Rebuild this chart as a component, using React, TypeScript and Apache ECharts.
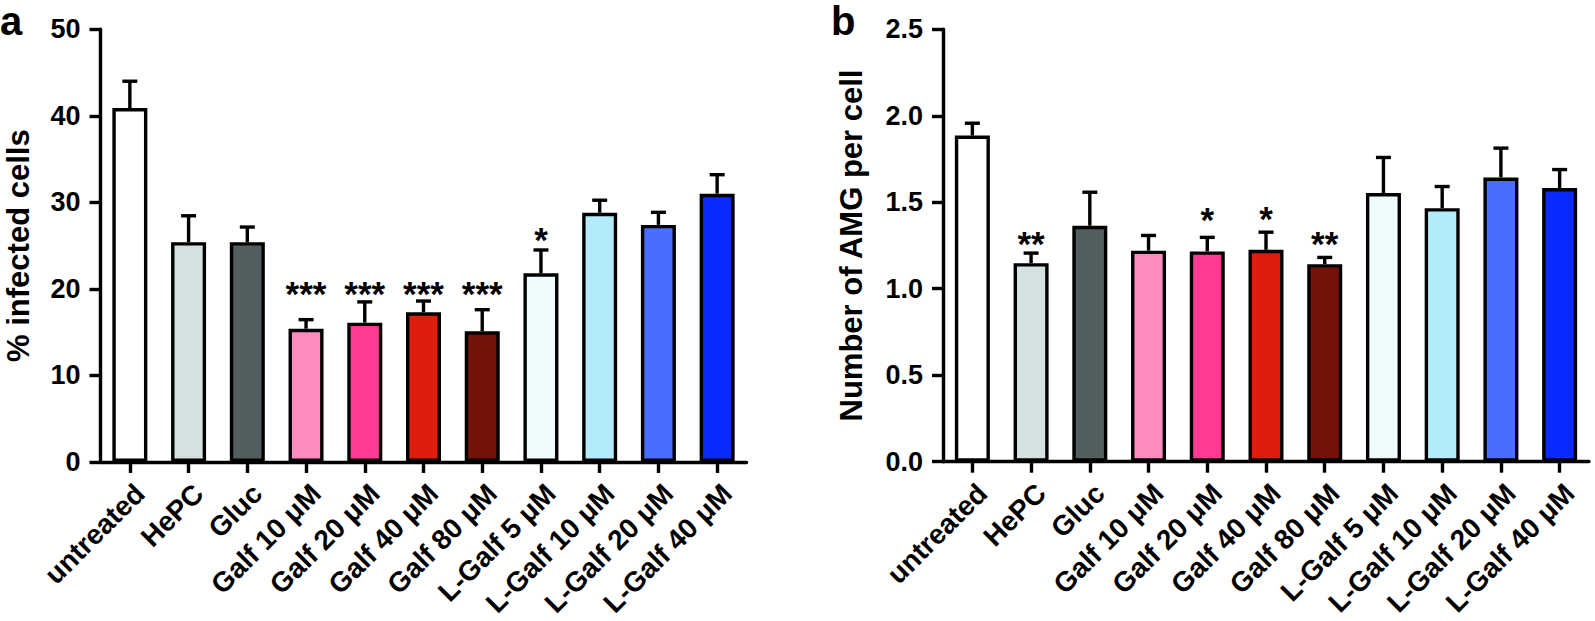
import React, { useEffect, useRef } from "react";
import * as echarts from "echarts";

const categories = [
  "untreated",
  "HePC",
  "Gluc",
  "Galf 10 μM",
  "Galf 20 μM",
  "Galf 40 μM",
  "Galf 80 μM",
  "L-Galf 5 μM",
  "L-Galf 10 μM",
  "L-Galf 20 μM",
  "L-Galf 40 μM",
];

const barColors = [
  "#FFFFFF",
  "#D3E1E0",
  "#525E5F",
  "#FF8BC0",
  "#FF3C92",
  "#DD1E0C",
  "#731209",
  "#EDFBFD",
  "#B3EBFB",
  "#4A6DFF",
  "#0A2AFF",
];

// panel a: % infected cells
const infectedMean = [40.9, 25.4, 25.4, 15.4, 16.1, 17.3, 15.1, 21.8, 28.8, 27.4, 31.0];
const infectedErr = [3.1, 3.05, 1.75, 1.05, 2.4, 1.3, 2.5, 2.7, 1.45, 1.45, 2.2];
const infectedSig = ["", "", "", "***", "***", "***", "***", "*", "", "", ""];
const infectedSigY = [0, 0, 0, 20.4, 20.4, 20.4, 20.4, 26.6, 0, 0, 0];
const infectedTicks = [0, 10, 20, 30, 40, 50];

// panel b: Number of AMG per cell
const amgMean = [1.886, 1.148, 1.364, 1.22, 1.216, 1.225, 1.142, 1.553, 1.466, 1.643, 1.582];
const amgErr = [0.071, 0.058, 0.194, 0.088, 0.081, 0.102, 0.039, 0.206, 0.125, 0.17, 0.107];
const amgSig = ["", "**", "", "", "*", "*", "**", "", "", "", ""];
const amgSigY = [0, 1.305, 0, 0, 1.445, 1.451, 1.305, 0, 0, 0, 0];
const amgTicks = [0, 0.5, 1.0, 1.5, 2.0, 2.5];

const FONT = '"Liberation Sans", Arial, Helvetica, sans-serif';
const LW = 3.4;

function xAxisFor(gridIndex: number) {
  return {
    type: "category",
    gridIndex,
    data: categories,
    axisLine: { show: true, lineStyle: { color: "#000", width: LW } },
    axisTick: { show: true, alignWithLabel: true, length: 11, lineStyle: { color: "#000", width: LW } },
    axisLabel: {
      interval: 0,
      rotate: 45,
      margin: 17,
      align: "right",
      verticalAlign: "top",
      color: "#000",
      fontSize: 28,
      fontWeight: "bold",
      fontFamily: FONT,
    },
    splitLine: { show: false },
  };
}

function yAxisFor(gridIndex: number, ticks: number[], name: string, nameGap: number, digits: number) {
  return {
    type: "value",
    gridIndex,
    min: ticks[0],
    max: ticks[ticks.length - 1],
    interval: ticks[1] - ticks[0],
    name,
    nameLocation: "middle",
    nameGap,
    nameTextStyle: { color: "#000", fontSize: 31, fontWeight: "bold", fontFamily: FONT },
    axisLine: { show: true, lineStyle: { color: "#000", width: LW } },
    axisTick: { show: true, length: 11, lineStyle: { color: "#000", width: LW } },
    axisLabel: {
      margin: 20,
      color: "#000",
      fontSize: 27,
      fontWeight: "bold",
      fontFamily: FONT,
      formatter: (v: number) => v.toFixed(digits),
    },
    splitLine: { show: false },
  };
}

function barSeries(idx: number, means: number[]) {
  return {
    type: "bar",
    xAxisIndex: idx,
    yAxisIndex: idx,
    barWidth: 35,
    data: means.map((v, i) => ({ value: v, itemStyle: { color: barColors[i] } })),
    itemStyle: { borderColor: "#000", borderWidth: LW },
    z: 2,
  };
}

function errSeries(idx: number, means: number[], errs: number[]) {
  return {
    type: "custom",
    xAxisIndex: idx,
    yAxisIndex: idx,
    z: 3,
    data: means.map((v, i) => [i, v, v + errs[i]]),
    renderItem: (params: any, api: any) => {
      const base = api.coord([api.value(0), api.value(1)]);
      const top = api.coord([api.value(0), api.value(2)]);
      const half = 7.5;
      return {
        type: "group",
        children: [
          {
            type: "line",
            shape: { x1: base[0], y1: base[1], x2: base[0], y2: top[1] },
            style: { stroke: "#000", lineWidth: LW },
          },
          {
            type: "line",
            shape: { x1: base[0] - half, y1: top[1], x2: base[0] + half, y2: top[1] },
            style: { stroke: "#000", lineWidth: LW },
          },
        ],
      };
    },
  };
}

function sigSeries(idx: number, sig: string[], sigY: number[]) {
  return {
    type: "custom",
    xAxisIndex: idx,
    yAxisIndex: idx,
    z: 4,
    data: sig.map((s, i) => [i, sigY[i], s]).filter((d) => d[2] !== ""),
    renderItem: (params: any, api: any) => {
      const p = api.coord([api.value(0), api.value(1)]);
      return {
        type: "text",
        style: {
          text: String(api.value(2)),
          x: p[0],
          y: p[1] + 8,
          fill: "#000",
          fontSize: 35,
          fontWeight: "bold",
          fontFamily: FONT,
          align: "center",
          verticalAlign: "middle",
        },
      };
    },
  };
}

export default function App() {
  const ref = useRef<HTMLDivElement>(null);
  useEffect(() => {
    if (!ref.current) return;
    const chart = echarts.init(ref.current, undefined, { renderer: "svg" });
    chart.setOption({
      animation: false,
      backgroundColor: "#fff",
      grid: [
        { left: 100.5, top: 29.3, width: 646, height: 432.7, outerBoundsMode: "none", containLabel: false },
        { left: 943, top: 29.3, width: 646, height: 432.4, outerBoundsMode: "none", containLabel: false },
      ],
      xAxis: [xAxisFor(0), xAxisFor(1)],
      yAxis: [
        yAxisFor(0, infectedTicks, "% infected cells", 67, 0),
        yAxisFor(1, amgTicks, "Number of AMG per cell", 76, 1),
      ],
      series: [
        barSeries(0, infectedMean),
        errSeries(0, infectedMean, infectedErr),
        sigSeries(0, infectedSig, infectedSigY),
        barSeries(1, amgMean),
        errSeries(1, amgMean, amgErr),
        sigSeries(1, amgSig, amgSigY),
      ],
      graphic: [
        {
          type: "text",
          style: { text: "a", x: 0, y: 21, fill: "#000", fontSize: 40, fontWeight: "bold", fontFamily: FONT, verticalAlign: "middle" },
        },
        {
          type: "text",
          style: { text: "b", x: 831, y: 21, fill: "#000", fontSize: 40, fontWeight: "bold", fontFamily: FONT, verticalAlign: "middle" },
        },
      ],
    });
    return () => chart.dispose();
  }, []);
  return (
    <div
      ref={ref}
      style={{ position: "fixed", left: 0, top: 0, width: "1595px", height: "621px" }}
    />
  );
}
